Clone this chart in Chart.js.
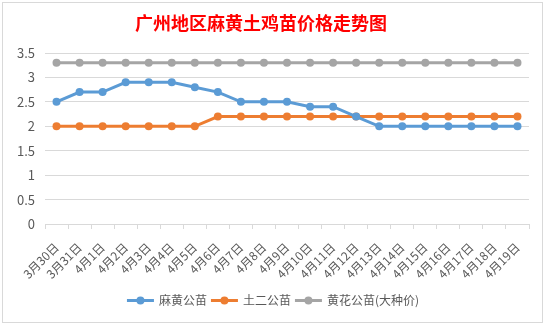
<!DOCTYPE html>
<html>
<head>
<meta charset="utf-8">
<script src="https://cdn.jsdelivr.net/npm/chart.js@4/dist/chart.umd.min.js"></script>
<style>
  html, body { margin: 0; padding: 0; background: #fff; }
  #wrap { position: relative; width: 546px; height: 326px; }
</style>
</head>
<body>
<div id="wrap"><canvas id="chart" width="546" height="326"></canvas></div>
<script>
const chartTitle = "广州地区麻黄土鸡苗价格走势图";
const dates = ["3月30日", "3月31日", "4月1日", "4月2日", "4月3日", "4月4日", "4月5日", "4月6日", "4月7日", "4月8日",
  "4月9日", "4月10日", "4月11日", "4月12日", "4月13日", "4月14日", "4月15日", "4月16日", "4月17日", "4月18日", "4月19日"];
const mahuangPrices = [2.5, 2.7, 2.7, 2.9, 2.9, 2.9, 2.8, 2.7, 2.5, 2.5, 2.5, 2.4, 2.4, 2.2, 2.0, 2.0, 2.0, 2.0, 2.0, 2.0, 2.0];
const tuerPrices = [2.0, 2.0, 2.0, 2.0, 2.0, 2.0, 2.0, 2.2, 2.2, 2.2, 2.2, 2.2, 2.2, 2.2, 2.2, 2.2, 2.2, 2.2, 2.2, 2.2, 2.2];
const huanghuaPrices = [3.3, 3.3, 3.3, 3.3, 3.3, 3.3, 3.3, 3.3, 3.3, 3.3, 3.3, 3.3, 3.3, 3.3, 3.3, 3.3, 3.3, 3.3, 3.3, 3.3, 3.3];
const seriesNames = ["麻黄公苗", "土二公苗", "黄花公苗(大种价)"];

const blueColor = "#5B9BD5";
const orangeColor = "#ED7D31";
const grayColor = "#A5A5A5";
const textColor = "#595959";
const fontFamily = "'Noto Sans CJK SC', 'Noto Sans', sans-serif";

function makeSeries(label, data, color) {
  return {
    label: label,
    data: data,
    borderColor: color,
    backgroundColor: color,
    borderWidth: 3,
    pointRadius: 4,
    pointBorderWidth: 0,
    pointBackgroundColor: color,
    tension: 0
  };
}

// frame, title and legend drawn by hand
const decorPlugin = {
  id: "decor",
  beforeDraw(chart) {
    const ctx = chart.ctx;
    ctx.save();
    ctx.fillStyle = "#fff";
    ctx.fillRect(0, 0, chart.width, chart.height);
    ctx.strokeStyle = "#d9d9d9";
    ctx.lineWidth = 1;
    ctx.strokeRect(2.5, 2.5, 540, 320);
    ctx.restore();
  },
  afterDraw(chart) {
    const ctx = chart.ctx;
    ctx.save();
    ctx.fillStyle = "#FF0000";
    ctx.font = "bold 18px " + fontFamily;
    ctx.textAlign = "center";
    ctx.textBaseline = "middle";
    ctx.fillText(chartTitle, 261, 23);

    ctx.font = "12px " + fontFamily;
    ctx.textAlign = "left";
    const colors = [blueColor, orangeColor, grayColor];
    const y = 300.5;
    let widths = seriesNames.map(n => 27 + 5 + ctx.measureText(n).width);
    let total = widths.reduce((a, b) => a + b, 0) + 4 * (seriesNames.length - 1);
    let x = 273 - total / 2;
    seriesNames.forEach((name, i) => {
      ctx.strokeStyle = colors[i];
      ctx.lineWidth = 3;
      ctx.beginPath();
      ctx.moveTo(x, y);
      ctx.lineTo(x + 27, y);
      ctx.stroke();
      ctx.fillStyle = colors[i];
      ctx.beginPath();
      ctx.arc(x + 13.5, y, 4, 0, Math.PI * 2);
      ctx.fill();
      ctx.fillStyle = textColor;
      ctx.fillText(name, x + 32, y);
      x += widths[i] + 4;
    });
    ctx.restore();
  }
};

new Chart(document.getElementById("chart").getContext("2d"), {
  type: "line",
  data: {
    labels: dates,
    datasets: [
      makeSeries(seriesNames[0], mahuangPrices, blueColor),
      makeSeries(seriesNames[1], tuerPrices, orangeColor),
      makeSeries(seriesNames[2], huanghuaPrices, grayColor)
    ]
  },
  options: {
    responsive: false,
    animation: false,
    layout: { padding: { top: 53, left: 0, right: 17, bottom: 40 } },
    plugins: {
      legend: { display: false },
      title: { display: false },
      tooltip: { enabled: false }
    },
    scales: {
      x: {
        offset: true,
        afterFit(scale) { scale.height = 62; },
        grid: {
          offset: true,
          drawOnChartArea: false,
          drawTicks: true,
          tickLength: 5,
          color: "#d9d9d9"
        },
        border: { display: true, color: "#d9d9d9" },
        ticks: {
          color: textColor,
          font: { family: fontFamily, size: 12 },
          minRotation: 45,
          maxRotation: 45,
          autoSkip: false,
          padding: 11
        }
      },
      y: {
        min: 0,
        max: 3.5,
        afterFit(scale) { scale.width = 45; },
        grid: { color: "#d9d9d9", drawTicks: false },
        border: { display: false },
        ticks: {
          stepSize: 0.5,
          color: textColor,
          padding: 10,
          font: { family: fontFamily, size: 13 },
          callback: function(value) { return String(Number(value)); }
        }
      }
    }
  },
  plugins: [decorPlugin]
});
</script>
</body>
</html>
